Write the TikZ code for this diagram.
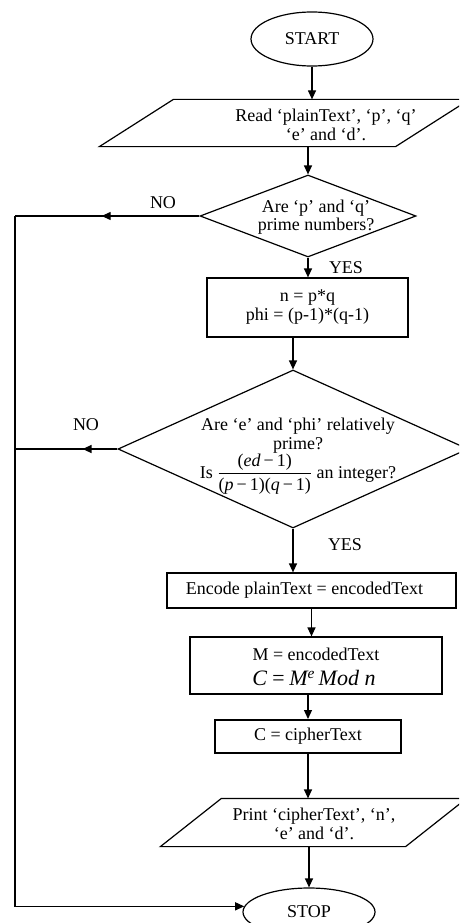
\documentclass[tikz,border=0pt]{standalone}
\usepackage{amsmath}
\usepackage{fontspec}
\setmainfont{Liberation Serif}
\usetikzlibrary{arrows.meta,shapes.geometric,calc}
\begin{document}
\begin{tikzpicture}[x=1pt,y=-1pt,
  line width=1.2pt,
  arr/.style={-{Triangle[length=9pt,width=8pt]}},
  txt/.style={font=\fontsize{18}{18.5}\selectfont, align=center, inner sep=0pt},
  term/.style={ellipse, draw, inner sep=0pt, font=\fontsize{18}{18.5}\selectfont},
  proc/.style={rectangle, draw, inner sep=0pt, align=center, font=\fontsize{18}{19}\selectfont},
  dec/.style={diamond, draw, inner sep=0pt},
  iobox/.style={rectangle, draw=none, inner sep=0pt}
]
\useasboundingbox (0,0) rectangle (459,923);
\clip (0,0) rectangle (459,923);

% START
\node[term, minimum width=122pt, minimum height=54pt] (start) at (312,39) {START};

% Read parallelogram
\node[iobox, minimum width=295pt, minimum height=46pt] (read) at (247.5,123) {};
\draw (read.south west) -- (read.south east) -- ([xshift=74pt]read.north east) -- ([xshift=74pt]read.north west) -- cycle;
\node[txt] (readt) at (326,125) {Read `plainText', `p', `q'\\`e' and `d'.};

% Decision 1
\node[dec, minimum width=216pt, minimum height=82pt] (d1) at (308,216) {};
\node[txt] (d1t) at (316,217) {Are `p' and `q'\\prime numbers?};

% Box 1
\node[proc, minimum width=201pt, minimum height=59pt] (b1) at (307.5,307.5) {n = p*q\\phi = (p-1)*(q-1)};

% Decision 2
\node[dec, minimum width=350pt, minimum height=158pt] (d2) at (293,449) {};
\node[txt] (d2t) at (298,456) {Are `e' and `phi' relatively\\prime?\\Is $\genfrac{}{}{0.8pt}{0}{\text{(\textit{ed}\,−\,1)}}{\text{(\textit{p}\,−\,1)(\textit{q}\,−\,1)}}$ an integer?};

% Box 2
\node[proc, minimum width=289pt, minimum height=35pt] (b2) at (311.5,590.5) {\hspace*{-14pt}Encode plainText = encodedText};

% Box 3
\node[proc, minimum width=252pt, minimum height=57pt] (b3) at (316,665.5) {};
\node[txt] (b3t1) at (316,654) {M = encodedText};
\node[txt, font=\fontsize{22}{24}\selectfont\itshape] (b3t2) at (314,678) {C\,=\,M\textsuperscript{e}\,Mod n};

% Box 4
\node[proc, line width=2pt, minimum width=186pt, minimum height=33pt] (b4) at (308,736.5) {C = cipherText};

% Print parallelogram
\node[iobox, minimum width=244pt, minimum height=47pt] (pr) at (283,822.5) {};
\draw (pr.south west) -- (pr.south east) -- ([xshift=61pt]pr.north east) -- ([xshift=61pt]pr.north west) -- cycle;
\node[txt] (prt) at (314,824) {Print `cipherText', `n',\\`e' and `d'.};

% STOP
\node[term, minimum width=132pt, minimum height=48pt] (stop) at (309,912) {STOP};

% labels
\node[txt] (no1) at (163,203) {NO};
\node[txt] (yes1) at (346,268) {YES};
\node[txt] (no2) at (86,425) {NO};
\node[txt] (yes2) at (345,545) {YES};

% connectors
\draw[arr] (start.south) -- (start.south |- read.north);
\draw[arr] (d1.north |- read.south) -- (d1.north);
\draw[arr] (d1.south) -- (d1.south |- b1.north);
\draw[arr] (d2.north |- b1.south) -- (d2.north);
\draw[arr] (d2.south) -- (d2.south |- b2.north);
\draw[arr] (b2.south) -- (b2.south |- b3.north);
\draw[arr] (b4.north |- b3.south) -- (b4.north);
\draw[arr] (b4.south) -- (b4.south |- pr.north);
\draw[arr] (stop.north |- pr.south) -- (stop.north);

% NO loops
\coordinate (c1) at (15,216);
\draw (d1.west) -- (c1);
\draw[arr] (d1.west) -- ($(d1.west)!0.53!(c1)$);
\draw (d2.west) -- (c1 |- d2.west);
\draw[arr] (d2.west) -- ($(d2.west)!0.34!(c1 |- d2.west)$);
\draw[arr] (c1) |- (stop.175);
\end{tikzpicture}
\end{document}
